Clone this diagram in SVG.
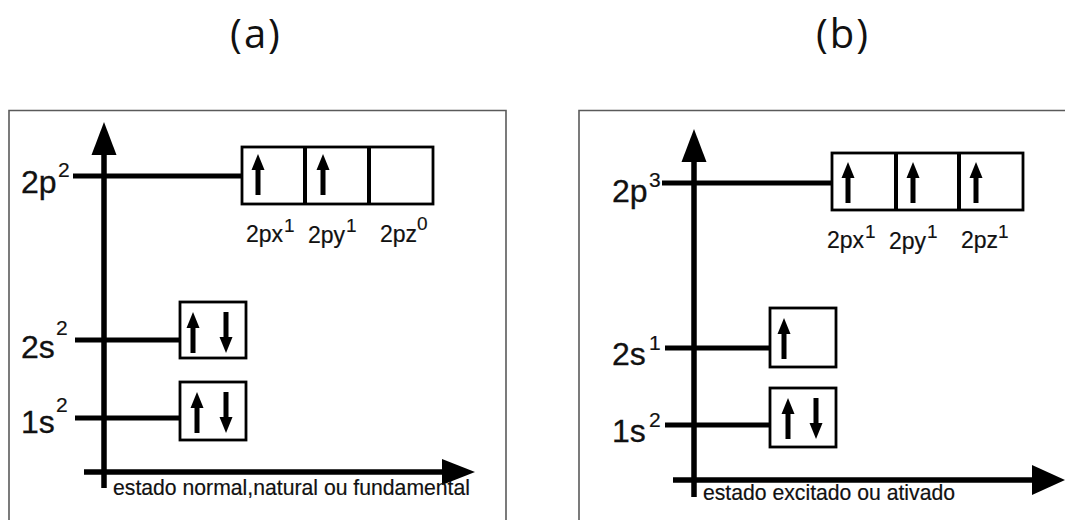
<svg xmlns="http://www.w3.org/2000/svg" width="1065" height="520" viewBox="0 0 1065 520">
<style>
.frame{fill:none;stroke:#5a5a5a;stroke-width:1.6}
.axis{stroke:#000;stroke-width:5.5;fill:none}
.lvl{stroke:#000;stroke-width:5;fill:none}
.box{fill:#fff;stroke:#000;stroke-width:2.8}
.div{stroke:#000;stroke-width:4}
.title{font-family:"Open Sans","DejaVu Sans",sans-serif;font-size:40px;fill:#111;letter-spacing:2px}
.big{font-family:"Liberation Sans",Arial,sans-serif;font-size:32px;fill:#111;stroke:#111;stroke-width:0.3}
.sup{font-family:"Liberation Sans",Arial,sans-serif;font-size:21px;fill:#111;stroke:#111;stroke-width:0.2}
.orb{font-family:"Liberation Sans",Arial,sans-serif;font-size:23px;fill:#111;stroke:#111;stroke-width:0.2}
.osup{font-family:"Liberation Sans",Arial,sans-serif;font-size:19px;fill:#111;stroke:#111;stroke-width:0.15}
.cap{font-family:"Liberation Sans",Arial,sans-serif;font-size:22px;fill:#111;stroke:#111;stroke-width:0.2}
</style>
<defs>
<g id="up"><polygon points="0,0 -6.5,16 6.5,16" fill="#000"/><rect x="-2.5" y="12" width="5" height="29" fill="#000"/></g>
<g id="down"><polygon points="0,41 -6.5,25 6.5,25" fill="#000"/><rect x="-2.5" y="0" width="5" height="29" fill="#000"/></g>
</defs>
<rect width="1065" height="520" fill="#fff"/>

<text class="title" x="256" y="48" text-anchor="middle">(a)</text>
<text class="title" x="843" y="48" text-anchor="middle">(b)</text>

<g id="panel-a">
<path class="frame" d="M9,530 V110.5 H506 V530"/>
<g id="connectors-a">
<line class="axis" x1="104" y1="150" x2="104" y2="488"/>
<polygon points="104,122 91.5,155 116.5,155" fill="#000"/>
<line class="axis" x1="84" y1="472" x2="447" y2="472"/>
<polygon points="475,472 442,459 442,485" fill="#000"/>
<line class="lvl" x1="73" y1="176" x2="242" y2="176"/>
<line class="lvl" x1="75" y1="340" x2="181" y2="340"/>
<line class="lvl" x1="75" y1="418" x2="181" y2="418"/>
</g>
<g id="a-2p">
<rect class="box" x="242" y="147" width="191" height="57"/>
<line class="div" x1="305" y1="147" x2="305" y2="204"/>
<line class="div" x1="369" y1="147" x2="369" y2="204"/>
<use href="#up" x="258" y="154"/>
<use href="#up" x="323" y="154"/>
<text class="big" x="21" y="193">2p</text><text class="sup" x="58" y="177">2</text>
<text class="orb" x="246" y="242">2px</text><text class="osup" x="284" y="232">1</text>
<text class="orb" x="308" y="243">2py</text><text class="osup" x="346" y="232">1</text>
<text class="orb" x="380" y="242">2pz</text><text class="osup" x="417" y="230">0</text>
</g>
<g id="a-2s">
<rect class="box" x="180" y="302" width="66" height="56"/>
<use href="#up" x="193" y="312"/>
<use href="#down" x="226" y="312"/>
<text class="big" x="21" y="358">2s</text><text class="sup" x="56" y="335">2</text>
</g>
<g id="a-1s">
<rect class="box" x="180" y="382" width="66" height="58"/>
<use href="#up" x="197" y="392"/>
<use href="#down" x="226" y="392"/>
<text class="big" x="21" y="433">1s</text><text class="sup" x="56" y="412">2</text>
</g>
<text class="cap" x="113" y="495" textLength="357" lengthAdjust="spacingAndGlyphs">estado normal,natural ou fundamental</text>
</g>

<g id="panel-b">
<path class="frame" d="M579,530 V110.5 H1070"/>
<g id="connectors-b">
<line class="axis" x1="694" y1="158" x2="694" y2="497"/>
<polygon points="694,129 681.5,162 706.5,162" fill="#000"/>
<line class="axis" x1="673" y1="480" x2="1037" y2="480"/>
<polygon points="1065,480 1032,465 1032,495" fill="#000"/>
<line class="lvl" x1="662" y1="183" x2="832" y2="183"/>
<line class="lvl" x1="665" y1="348" x2="771" y2="348"/>
<line class="lvl" x1="665" y1="425" x2="773" y2="425"/>
</g>
<g id="b-2p">
<rect class="box" x="832" y="153" width="191" height="57"/>
<line class="div" x1="896" y1="153" x2="896" y2="210"/>
<line class="div" x1="959" y1="153" x2="959" y2="210"/>
<use href="#up" x="848" y="162"/>
<use href="#up" x="913" y="162"/>
<use href="#up" x="976" y="162"/>
<text class="big" x="612" y="202">2p</text><text class="sup" x="649" y="187">3</text>
<text class="orb" x="827" y="248">2px</text><text class="osup" x="865" y="238">1</text>
<text class="orb" x="889" y="249">2py</text><text class="osup" x="927" y="238">1</text>
<text class="orb" x="961" y="248">2pz</text><text class="osup" x="998" y="238">1</text>
</g>
<g id="b-2s">
<rect class="box" x="770" y="308" width="66" height="59"/>
<use href="#up" x="784" y="318"/>
<text class="big" x="612" y="365">2s</text><text class="sup" x="649" y="350">1</text>
</g>
<g id="b-1s">
<rect class="box" x="770" y="388" width="66" height="59"/>
<use href="#up" x="788" y="398"/>
<use href="#down" x="816" y="398"/>
<text class="big" x="612" y="442">1s</text><text class="sup" x="649" y="427">2</text>
</g>
<text class="cap" x="703" y="500" textLength="252" lengthAdjust="spacingAndGlyphs">estado excitado ou ativado</text>
</g>
</svg>
